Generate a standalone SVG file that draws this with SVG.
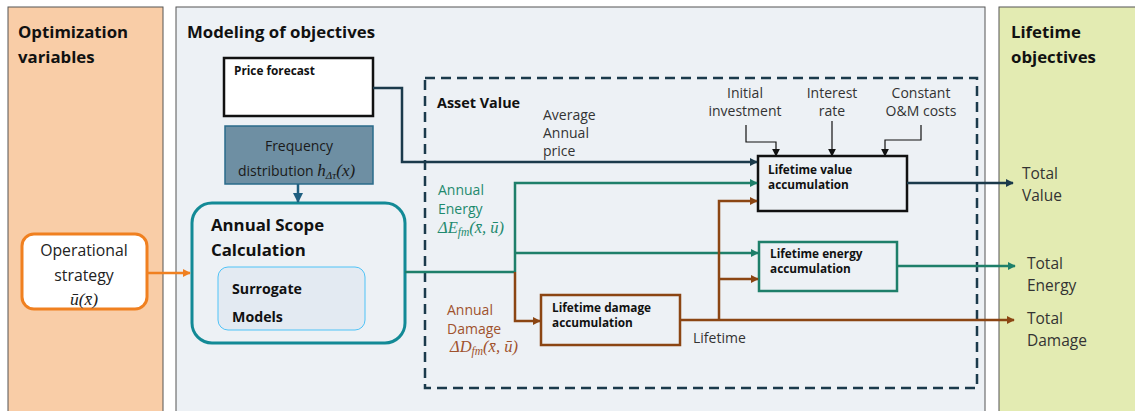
<svg xmlns="http://www.w3.org/2000/svg" width="1135" height="411" viewBox="0 0 1135 411">
<style>
.t{font-family:"Open Sans","Liberation Sans",sans-serif}
.h{font-size:16.8px;font-weight:bold;fill:#111}
.b{font-size:11.8px;font-weight:bold;fill:#111}
.l{font-size:14px;fill:#333}
.m{font-family:"Liberation Serif","DejaVu Serif",serif;font-style:italic}
.cg{fill:#1E8A6E}
.cb{fill:#A0522D}
.ln{fill:none;stroke-width:2.5}
.tk{fill:none;stroke:#111;stroke-width:1.2}
</style>
<defs>
<marker id="aN" viewBox="0 0 10 10" refX="9" refY="5" markerWidth="8" markerHeight="8" markerUnits="userSpaceOnUse" orient="auto"><path d="M0,0L10,5L0,10z" fill="#1B3A4B"/></marker>
<marker id="aK" viewBox="0 0 10 10" refX="9" refY="5" markerWidth="8" markerHeight="8" markerUnits="userSpaceOnUse" orient="auto"><path d="M0,0L10,5L0,10z" fill="#111"/></marker>
<marker id="aG" viewBox="0 0 10 10" refX="9" refY="5" markerWidth="8" markerHeight="8" markerUnits="userSpaceOnUse" orient="auto"><path d="M0,0L10,5L0,10z" fill="#1E7F6A"/></marker>
<marker id="aB" viewBox="0 0 10 10" refX="9" refY="5" markerWidth="8" markerHeight="8" markerUnits="userSpaceOnUse" orient="auto"><path d="M0,0L10,5L0,10z" fill="#8B4513"/></marker>
<marker id="aO" viewBox="0 0 10 10" refX="9" refY="5" markerWidth="8" markerHeight="8" markerUnits="userSpaceOnUse" orient="auto"><path d="M0,0L10,5L0,10z" fill="#F08020"/></marker>
<marker id="aF" viewBox="0 0 10 10" refX="9" refY="5" markerWidth="10" markerHeight="10" markerUnits="userSpaceOnUse" orient="auto"><path d="M0,0L10,5L0,10z" fill="#1F5F80"/></marker>
</defs>
<rect width="1135" height="411" fill="#fff"/>

<g id="panel-optimization">
<rect x="8" y="7" width="155" height="410" fill="#F9CDA7" stroke="#555" stroke-width="1"/>
<text class="t h" x="18" y="38">Optimization</text>
<text class="t h" x="18" y="63">variables</text>
</g>
<g id="panel-modeling">
<rect x="176" y="7" width="809" height="410" fill="#EDF1F5" stroke="#555" stroke-width="1"/>
<text class="t h" x="187" y="38">Modeling of objectives</text>
</g>
<g id="panel-lifetime">
<rect x="999" y="7" width="140" height="410" fill="#E3EBB2" stroke="#555" stroke-width="1"/>
<text class="t h" x="1011" y="38">Lifetime</text>
<text class="t h" x="1011" y="63">objectives</text>
</g>

<g id="asset-value">
<rect x="425" y="78" width="552" height="310" fill="none" stroke="#1B3A4B" stroke-width="2.5" stroke-dasharray="10,6"/>
<text class="t" x="437" y="108" style="font-size:14.4px;font-weight:bold;fill:#111">Asset Value</text>
</g>

<g id="price-forecast">
<rect x="224" y="58" width="149" height="58" fill="#fff" stroke="#111" stroke-width="2.5"/>
<text class="t b" x="234" y="75">Price forecast</text>
</g>

<g id="frequency-distribution">
<rect x="225" y="126" width="148" height="58" fill="#6E8FA3" stroke="#2A6B8A" stroke-width="1.5"/>
<text class="t l" x="299" y="151" text-anchor="middle" style="fill:#1a1a1a">Frequency</text>
<text class="t l" x="238" y="176" style="fill:#1a1a1a">distribution <tspan class="m" style="font-size:17px">h</tspan><tspan class="m" style="font-size:11px" dy="3">Δτ</tspan><tspan class="m" style="font-size:17px" dy="-3">(x)</tspan></text>
</g>

<g id="annual-scope">
<rect x="192" y="203" width="213" height="140" rx="20" fill="#EDF1F5" stroke="#138A96" stroke-width="3"/>
<text class="t h" x="211" y="231">Annual Scope</text>
<text class="t h" x="211" y="256">Calculation</text>
</g>

<g id="surrogate-models">
<rect x="218" y="267" width="147" height="63" rx="10" fill="#E3EAF2" stroke="#4FC3F7" stroke-width="1"/>
<text class="t" x="232" y="294" style="font-size:14.2px;font-weight:bold;fill:#111">Surrogate</text>
<text class="t" x="232" y="322" style="font-size:14.2px;font-weight:bold;fill:#111">Models</text>
</g>

<g id="operational-strategy">
<rect x="22" y="234" width="125" height="75" rx="12" fill="#fff" stroke="#F08020" stroke-width="3"/>
<text class="t l" x="84" y="256" text-anchor="middle" style="font-size:15.8px;fill:#222">Operational</text>
<text class="t l" x="84" y="281" text-anchor="middle" style="font-size:15.8px;fill:#222">strategy</text>
<text class="m" x="84" y="305" text-anchor="middle" style="font-size:17.5px;fill:#222">ū(x̄)</text>
</g>

<g id="lifetime-value">
<rect x="758" y="156" width="149" height="55" fill="#EDF1F5" stroke="#111" stroke-width="2.5"/>
<text class="t b" x="768" y="174">Lifetime value</text>
<text class="t b" x="768" y="189">accumulation</text>
</g>

<g id="lifetime-energy">
<rect x="759" y="242" width="138" height="49" fill="#EDF1F5" stroke="#1E7F6A" stroke-width="2.5"/>
<text class="t b" x="770" y="258">Lifetime energy</text>
<text class="t b" x="770" y="273">accumulation</text>
</g>

<g id="lifetime-damage">
<rect x="541" y="295" width="139" height="50" fill="#EDF1F5" stroke="#8B4513" stroke-width="2.5"/>
<text class="t b" x="552" y="312">Lifetime damage</text>
<text class="t b" x="552" y="327">accumulation</text>
</g>

<g id="labels">
<text class="t l" x="543" y="120">Average</text>
<text class="t l" x="543" y="138">Annual</text>
<text class="t l" x="543" y="156">price</text>
<text class="t l" x="745" y="98" text-anchor="middle">Initial</text>
<text class="t l" x="745" y="116" text-anchor="middle">investment</text>
<text class="t l" x="832" y="98" text-anchor="middle">Interest</text>
<text class="t l" x="832" y="116" text-anchor="middle">rate</text>
<text class="t l" x="921" y="98" text-anchor="middle">Constant</text>
<text class="t l" x="921" y="116" text-anchor="middle">O&amp;M costs</text>
<text class="t l cg" x="438" y="195">Annual</text>
<text class="t l cg" x="438" y="214">Energy</text>
<text class="m cg" x="438" y="233" style="font-size:16.5px">ΔE<tspan style="font-size:11.5px" dy="3">fm</tspan><tspan dy="-3">(x̄, ū)</tspan></text>
<text class="t l cb" x="447" y="315">Annual</text>
<text class="t l cb" x="447" y="334">Damage</text>
<text class="m cb" x="450" y="352" style="font-size:16.5px">ΔD<tspan style="font-size:11.5px" dy="3">fm</tspan><tspan dy="-3">(x̄, ū)</tspan></text>
<text class="t l" x="693" y="343">Lifetime</text>
<text class="t l" x="1022" y="179" style="font-size:15.5px">Total</text>
<text class="t l" x="1022" y="201" style="font-size:15.5px">Value</text>
<text class="t l" x="1027" y="269" style="font-size:15.5px">Total</text>
<text class="t l" x="1027" y="291" style="font-size:15.5px">Energy</text>
<text class="t l" x="1027" y="324" style="font-size:15.5px">Total</text>
<text class="t l" x="1027" y="346" style="font-size:15.5px">Damage</text>
</g>

<g id="connectors">
<path class="ln" d="M147,273H190" stroke="#F08020" marker-end="url(#aO)"/>
<path class="ln" d="M298,184V202" stroke="#1F5F80" stroke-width="3" marker-end="url(#aF)"/>
<path class="ln" d="M373,88H402V162H757" stroke="#1B3A4B" marker-end="url(#aN)"/>
<path class="tk" d="M746,125V142H776V156" marker-end="url(#aK)"/>
<path class="tk" d="M832,121V156" marker-end="url(#aK)"/>
<path class="tk" d="M921,125V140H885V156" marker-end="url(#aK)"/>
<path class="ln" d="M907,183H1013" stroke="#1B3A4B" marker-end="url(#aN)"/>
<path class="ln" d="M405,272H515" stroke="#1E7F6A"/>
<path class="ln" d="M515,272V183H757" stroke="#1E7F6A" marker-end="url(#aG)"/>
<path class="ln" d="M515,253H758" stroke="#1E7F6A" marker-end="url(#aG)"/>
<path class="ln" d="M515,272V321H540" stroke="#8B4513" marker-end="url(#aB)"/>
<path class="ln" d="M680,320H1014" stroke="#8B4513" marker-end="url(#aB)"/>
<path class="ln" d="M719,320V201H757" stroke="#8B4513" marker-end="url(#aB)"/>
<path class="ln" d="M719,279H758" stroke="#8B4513" marker-end="url(#aB)"/>
<path class="ln" d="M897,266H1015" stroke="#1E7F6A" marker-end="url(#aG)"/>
</g>
</svg>
